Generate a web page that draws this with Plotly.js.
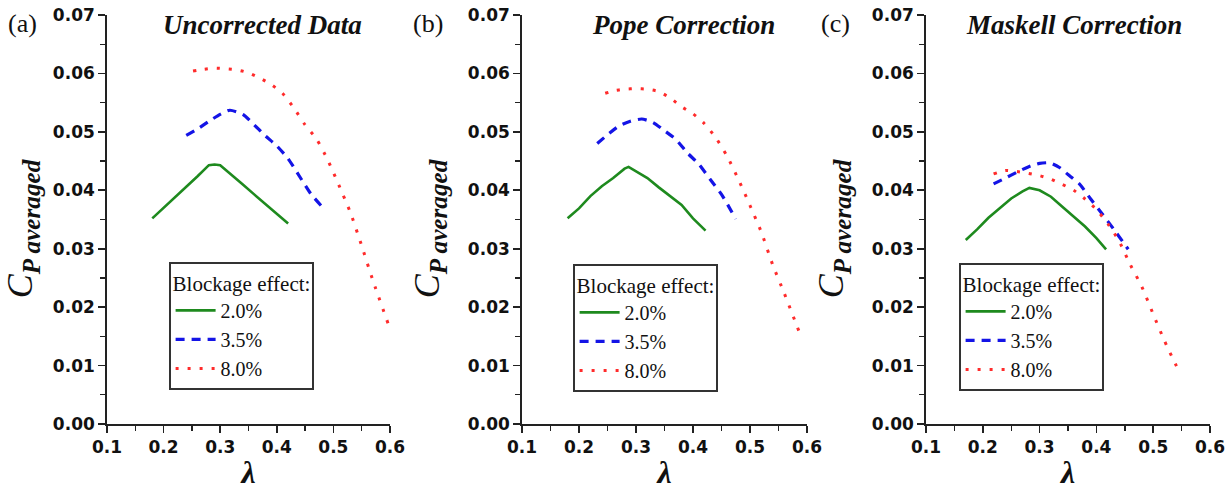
<!DOCTYPE html>
<html>
<head>
<meta charset="utf-8">
<script src="https://cdn.plot.ly/plotly-3.0.1.min.js"></script>
<style>html,body{margin:0;padding:0;background:#fff;}#chart{width:1230px;height:490px;}</style>
</head>
<body>
<div id="chart"></div>
<script>
// ---------- data ----------
const seriesNames = ['2.0%', '3.5%', '8.0%'];
const panelLabels = ['(a)', '(b)', '(c)'];
const panelTitles = ['Uncorrected Data', 'Pope Correction', 'Maskell Correction'];
const xTickVals = [0.1, 0.2, 0.3, 0.4, 0.5, 0.6];
const yTickVals = [0.00, 0.01, 0.02, 0.03, 0.04, 0.05, 0.06, 0.07];

// (a) Uncorrected
const lamA20 = [0.18,0.20,0.22,0.24,0.26,0.28,0.29,0.30,0.32,0.34,0.36,0.38,0.40,0.42];
const cpA20  = [0.0352,0.0370,0.0388,0.0405,0.0424,0.0443,0.0444,0.0443,0.0427,0.0410,0.0393,0.0376,0.0360,0.0343];
const lamA35 = [0.24,0.26,0.28,0.30,0.317,0.34,0.36,0.38,0.40,0.42,0.44,0.46,0.478];
const cpA35  = [0.0494,0.0505,0.0518,0.0530,0.0537,0.0530,0.0512,0.0493,0.0476,0.0454,0.0424,0.0394,0.0374];
const lamA80 = [0.252,0.27,0.29,0.31,0.33,0.35,0.37,0.39,0.41,0.43,0.45,0.47,0.49,0.51,0.53,0.55,0.57,0.597];
const cpA80  = [0.0604,0.0607,0.0609,0.0608,0.0606,0.0601,0.0592,0.0581,0.0566,0.0541,0.0512,0.0488,0.0452,0.0408,0.0362,0.0305,0.0245,0.0171];

// (b) Pope correction
const lamB20 = [0.18,0.20,0.22,0.24,0.26,0.28,0.287,0.30,0.32,0.34,0.36,0.38,0.40,0.422];
const cpB20  = [0.0352,0.0369,0.0390,0.0407,0.0421,0.0437,0.0440,0.0433,0.0421,0.0405,0.0390,0.0375,0.0352,0.0331];
const lamB35 = [0.232,0.25,0.27,0.29,0.31,0.33,0.35,0.37,0.39,0.41,0.43,0.45,0.475];
const cpB35  = [0.0480,0.0495,0.0510,0.0518,0.0522,0.0516,0.0502,0.0487,0.0464,0.0445,0.0419,0.0393,0.0351];
const lamB80 = [0.246,0.26,0.28,0.30,0.32,0.34,0.36,0.38,0.40,0.42,0.44,0.46,0.48,0.50,0.52,0.54,0.56,0.587];
const cpB80  = [0.0566,0.0570,0.0573,0.0574,0.0573,0.0569,0.0558,0.0543,0.0531,0.0514,0.0490,0.0458,0.0418,0.0374,0.0328,0.0272,0.0224,0.0156];

// (c) Maskell correction
const lamC20 = [0.17,0.19,0.21,0.23,0.25,0.27,0.282,0.30,0.32,0.34,0.36,0.38,0.40,0.417];
const cpC20  = [0.0315,0.0333,0.0353,0.0370,0.0386,0.0398,0.0404,0.0400,0.0389,0.0372,0.0355,0.0338,0.0318,0.0299];
const lamC35 = [0.219,0.24,0.26,0.28,0.30,0.318,0.335,0.35,0.37,0.39,0.41,0.43,0.456];
const cpC35  = [0.0411,0.0421,0.0431,0.0440,0.0446,0.0447,0.0439,0.0427,0.0411,0.0385,0.0360,0.0334,0.0299];
const lamC80 = [0.219,0.24,0.26,0.28,0.30,0.32,0.34,0.36,0.38,0.40,0.42,0.44,0.46,0.48,0.50,0.52,0.541];
const cpC80  = [0.0428,0.0434,0.0432,0.0429,0.0425,0.0419,0.0410,0.0400,0.0385,0.0367,0.0343,0.0313,0.0272,0.0235,0.0188,0.0142,0.0099];

// ---------- styling ----------
const W = 1230, H = 490;
const serif = 'Liberation Serif';
const sans = 'DejaVu Sans';
const lineStyles = [
  {color: '#1e8a1e', width: 2.6, dash: 'solid'},
  {color: '#1414e6', width: 3.2, dash: '9px,7px'},
  {color: '#ff2b2b', width: 3, dash: '3px,9px'}
];
const panels = [
  {xs: [lamA20, lamA35, lamA80], ys: [cpA20, cpA35, cpA80], px: [107, 390], leg: [169, 262]},
  {xs: [lamB20, lamB35, lamB80], ys: [cpB20, cpB35, cpB80], px: [522, 807], leg: [573, 264]},
  {xs: [lamC20, lamC35, lamC80], ys: [cpC20, cpC35, cpC80], px: [926, 1210], leg: [959, 263]}
];
const plotTop = 15, plotBottom = 424;

const traces = [];
const layout = {
  width: W, height: H,
  margin: {l: 0, r: 0, t: 0, b: 0},
  paper_bgcolor: '#fff', plot_bgcolor: '#fff',
  font: {family: serif, size: 20, color: '#111'},
  showlegend: true,
  annotations: []
};

panels.forEach((p, i) => {
  const sfx = i === 0 ? '' : String(i + 1);
  const legName = 'legend' + sfx;
  for (let s = 0; s < 3; s++) {
    traces.push({
      type: 'scatter', mode: 'lines',
      x: p.xs[s], y: p.ys[s],
      name: seriesNames[s],
      xaxis: 'x' + sfx, yaxis: 'y' + sfx,
      legend: legName,
      line: Object.assign({shape: s === 0 ? 'linear' : 'spline', smoothing: 0.6}, lineStyles[s]),
      hoverinfo: 'x+y'
    });
  }
  const xdom = [p.px[0] / W, p.px[1] / W];
  const ydom = [1 - plotBottom / H, 1 - plotTop / H];
  layout['xaxis' + sfx] = {
    domain: xdom, anchor: 'y' + sfx,
    range: [0.1, 0.6], tickvals: xTickVals, tickformat: '.1f',
    showline: true, linecolor: '#222', linewidth: 1.8,
    ticks: 'outside', ticklen: 7, tickwidth: 1.6, tickcolor: '#222',
    minor: {dtick: 0.05, ticks: 'outside', ticklen: 5, tickwidth: 1.4, tickcolor: '#222'},
    showgrid: false, zeroline: false,
    tickfont: {family: sans, size: 17, color: '#111', weight: 'bold'},
    title: {text: '<b><i>λ</i></b>', font: {family: serif, size: 32, color: '#111'}, standoff: 4}
  };
  layout['yaxis' + sfx] = {
    domain: ydom, anchor: 'x' + sfx,
    range: [0, 0.07], tickvals: yTickVals, tickformat: '.2f',
    showline: true, linecolor: '#222', linewidth: 1.8,
    ticks: 'outside', ticklen: 7, tickwidth: 1.6, tickcolor: '#222',
    minor: {dtick: 0.005, ticks: 'outside', ticklen: 5, tickwidth: 1.4, tickcolor: '#222'},
    showgrid: false, zeroline: false,
    tickfont: {family: sans, size: 17, color: '#111', weight: 'bold'},
    title: {text: '<i>C</i><sub><b><i>P averaged</i></b>\u00a0\u00a0\u00a0</sub>', font: {family: serif, size: 36, color: '#111'}}
  };
  layout[legName] = {
    x: p.leg[0] / W, y: 1 - p.leg[1] / H, xanchor: 'left', yanchor: 'top',
    xref: 'paper', yref: 'paper',
    bgcolor: '#fff', bordercolor: '#333', borderwidth: 1.6,
    font: {family: serif, size: 20, color: '#111'},
    title: {text: 'Blockage effect:', side: 'top', font: {family: serif, size: 21, color: '#111'}},
    itemwidth: 40, tracegroupgap: 0
  };
  layout.annotations.push({
    text: panelLabels[i], xref: 'paper', yref: 'paper',
    x: [6, 411, 819][i] / W, y: 1 - 23 / H, xanchor: 'left', yanchor: 'middle',
    showarrow: false, font: {family: serif, size: 26, color: '#111'}
  });
  layout.annotations.push({
    text: '<b><i>' + panelTitles[i] + '</i></b>', xref: 'paper', yref: 'paper',
    x: [262, 683, 1074][i] / W, y: 1 - 25 / H, xanchor: 'center', yanchor: 'middle',
    showarrow: false, font: {family: serif, size: 27, color: '#111'}
  });
});

Plotly.newPlot('chart', traces, layout, {displayModeBar: false, staticPlot: true});
</script>
</body>
</html>
